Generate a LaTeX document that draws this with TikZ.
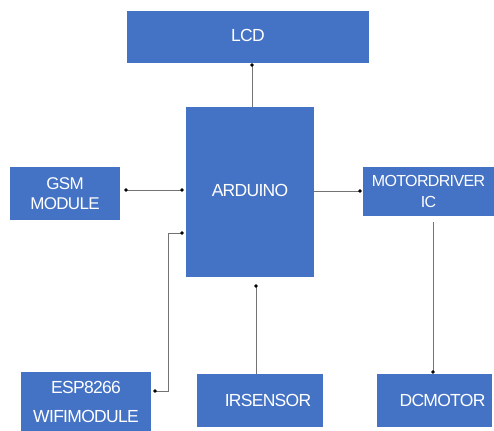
\documentclass[tikz,border=0pt]{standalone}
\usepackage{fontspec}
\setmainfont{Liberation Sans}
\usetikzlibrary{arrows.meta}
\definecolor{blockblue}{RGB}{68,114,196}
\newcommand{\blockfont}[2]{\fontsize{#1}{#2}\selectfont\addfontfeature{LetterSpace=-4}}
\begin{document}
\begin{tikzpicture}[x=1pt,y=-1pt,
  block/.style={fill=blockblue,draw=none,text=white,inner sep=0pt,align=center,
    font=\blockfont{17.5}{29}},
  link/.style={draw=black!55,line width=0.8pt},
  dot/.tip={Circle[length=3.5pt,black]}]
\useasboundingbox (0,0) rectangle (494,430);
%\draw[step=10,gray,very thin] (0,0) grid (494,430);
\node[block,minimum width=242,minimum height=52] (lcd) at (248,37) {\raisebox{3pt}{LCD}};
\node[block,minimum width=128,minimum height=170] (ard) at (250,192) {\raisebox{4pt}{ARDUINO}};
\node[block,minimum width=110,minimum height=53,font=\blockfont{17}{20}] (gsm) at (65,193.5) {GSM\\MODULE};
\node[block,minimum width=131,minimum height=49,font=\blockfont{16}{21}] (mot) at (428.5,191.5) {MOTORDRIVER\\IC};
\node[block,minimum width=130,minimum height=60] (esp) at (86,402) {ESP8266\\WIFIMODULE};
\node[block,minimum width=126,minimum height=53] (ir) at (260,400.5) {\hspace*{16pt}IRSENSOR};
\node[block,minimum width=115,minimum height=53] (dc) at (434.5,400.5) {\hspace*{16pt}DCMOTOR};
\draw[link,-dot] (ard.north -| 252,0) -- (lcd.south -| 252,0);
\draw[link,dot-dot,shorten <=4pt,shorten >=2pt] (gsm.east |- 0,190) -- (ard.west |- 0,190);
\draw[link,-dot,shorten >=1pt] (ard.east |- 0,191) -- (mot.west |- 0,191);
\draw[link,dot-dot,shorten <=2pt,shorten >=2pt] ([yshift=11pt]esp.east) -| (168,233) -- ([yshift=-41pt]ard.west);
\draw[link,-dot,shorten >=7pt] (ir.north -| 256,0) -- (ard.south -| 256,0);
\draw[link,-dot,shorten <=6pt] (mot.south -| 433,0) -- (dc.north -| 433,0);
\end{tikzpicture}
\end{document}
